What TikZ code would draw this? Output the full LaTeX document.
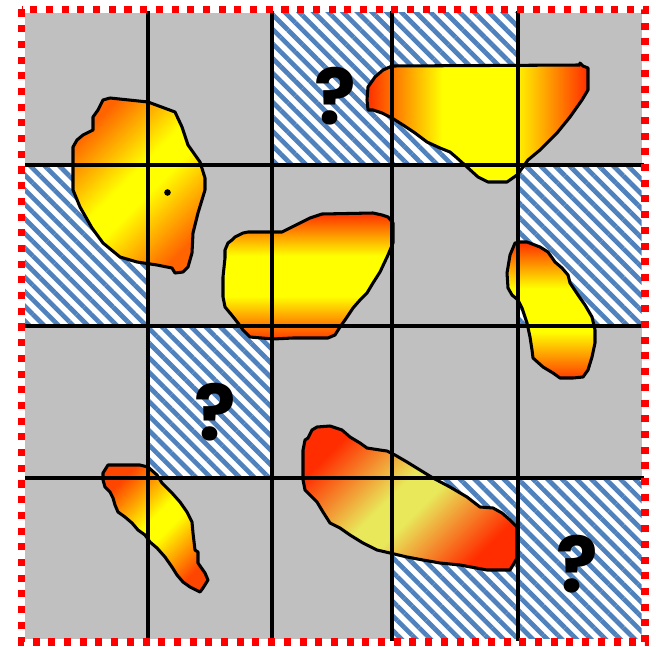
\documentclass[tikz,border=0pt]{standalone}
\usepackage{fontspec}
\newfontfamily\qfont{Poppins}
\usetikzlibrary{patterns.meta}

\definecolor{cellgray}{RGB}{192,192,192}
\definecolor{hatchblue}{RGB}{79,129,189}
\definecolor{blobred}{RGB}{255,45,0}
\definecolor{bloborange}{RGB}{255,100,0}
\definecolor{paleyellow}{RGB}{232,232,90}
\colorlet{blobedge}{blobred}
\colorlet{blobend}{blobred}
\colorlet{blobmid}{yellow}

% wide yellow middle band
\pgfdeclareverticalshading[blobedge,blobmid,blobend]{blobfill}{100bp}{color(0bp)=(blobend); color(25bp)=(blobend);
    color(42bp)=(blobmid); color(58bp)=(blobmid); color(75bp)=(blobedge); color(100bp)=(blobedge)}
% same, for the slanted ones
\pgfdeclareverticalshading[blobedge,blobmid,blobend]{blobdiag}{100bp}{color(0bp)=(blobend); color(25bp)=(blobend);
    color(46bp)=(blobmid); color(54bp)=(blobmid); color(75bp)=(blobedge); color(100bp)=(blobedge)}

\begin{document}
\begin{tikzpicture}[x=0.03cm, y=-0.03cm,
            hatched/.style={fill=white, postaction={pattern={Lines[angle=-45,distance=8.8pt,line width=4pt]}, pattern color=hatchblue}},
            blob/.style={draw=black, line width=2.6pt, line join=round, shading=blobfill},
            slanted/.style={shading=blobdiag, shading angle=45},
            edges/.code 2 args={\colorlet{blobedge}{#1}\colorlet{blobend}{#2}},
            midcol/.code={\colorlet{blobmid}{#1}},
            gridline/.style={line width=2.7pt},
            qmark/.style={inner sep=0pt, font=\qfont\bfseries\fontsize{66}{66}\selectfont}]
            \useasboundingbox (0,0) rectangle (656,646);
            % ==== CELLS ====
            \fill[cellgray] (25,13) rectangle (641.5,638.5);
            \foreach \xa/\ya/\xb/\yb in {272/13/518/165, 25/165/148/326, 518/165/641.5/326,
                148/326/272/478, 392/478/641.5/638.5}
                \path[hatched] (\xa,\ya) rectangle (\xb,\yb);
            \node[qmark] (q1) at (335,96) {?};
            \node[qmark] (q2) at (215,412) {?};
            \node[qmark] (q3) at (577,564) {?};

            % ==== BLOBS ====
            \draw[blob, slanted, edges={bloborange}{bloborange}]
                (103,100) -- (110,98) -- (148,102) -- (175,112) -- (182,127) -- (188,145) -- (200,162)
                -- (205,178) -- (205,190) -- (198,213) -- (193,233) -- (192,253) -- (188,267) -- (183,272)
                -- (175,273) -- (172,268) -- (157,265) -- (137,262) -- (120,257) -- (103,243) -- (92,228)
                -- (80,207) -- (73,190) -- (73,147) -- (77,140) -- (83,135) -- (93,130) -- (93,117)
                -- (98,110) -- cycle;
            \fill (167.5,192.5) circle[radius=3.3];
            \draw[blob, edges={blobred}{blobred}, shading angle=90]
                (392,66) -- (580,65) -- (580,63) -- (583,66) -- (588,68) -- (588,90) -- (582,100)
                -- (570,117) -- (557,133) -- (540,150) -- (528,160) -- (523,167) -- (517,175) -- (507,182)
                -- (488,182) -- (478,177) -- (467,167) -- (457,158) -- (450,152) -- (440,148) -- (427,142)
                -- (415,133) -- (403,125) -- (392,118) -- (382,113) -- (373,110) -- (368,110) -- (367,100)
                -- (368,87) -- (375,77) -- (383,70) -- cycle;
            \draw[blob, edges={blobred}{blobred!80!orange}]
                (232,240) -- (235,237) -- (243,233) -- (248,232) -- (282,232) -- (290,228) -- (300,223)
                -- (310,218) -- (322,214) -- (373,213) -- (382,215) -- (388,217) -- (393,223) -- (393,243)
                -- (388,255) -- (380,272) -- (373,283) -- (367,293) -- (360,300) -- (353,308) -- (345,320)
                -- (340,327) -- (335,335) -- (328,338) -- (293,338) -- (273,339) -- (250,337) -- (243,330)
                -- (238,323) -- (230,313) -- (225,307) -- (223,297) -- (223,277) -- (225,258) -- (225,250)
                -- (228,243) -- cycle;
            \draw[blob, edges={blobred}{blobred!80!orange}]
                (515,243) -- (520,242) -- (527,242) -- (540,247) -- (548,252) -- (555,262) -- (562,268)
                -- (568,275) -- (570,283) -- (578,295) -- (585,305) -- (592,317) -- (595,330) -- (595,343)
                -- (592,357) -- (588,370) -- (583,377) -- (573,378) -- (560,378) -- (553,373) -- (543,367)
                -- (533,358) -- (532,350) -- (530,337) -- (527,323) -- (522,308) -- (518,300) -- (512,295)
                -- (508,288) -- (507,273) -- (510,255) -- cycle;
            \draw[blob, slanted, edges={blobred!70!orange}{blobred!70!orange}]
                (108,465) -- (140,465) -- (148,467) -- (157,475) -- (162,483) -- (172,493) -- (180,502)
                -- (187,512) -- (192,522) -- (193,533) -- (195,550) -- (198,552) -- (198,563) -- (205,573)
                -- (208,580) -- (203,588) -- (200,592) -- (190,587) -- (183,582) -- (177,575) -- (172,567)
                -- (165,557) -- (157,548) -- (150,542) -- (145,535) -- (138,530) -- (132,523) -- (125,517)
                -- (118,512) -- (115,505) -- (113,498) -- (110,492) -- (105,487) -- (103,480) -- (103,473)
                -- cycle;
            \draw[blob, slanted, edges={blobred}{blobred}, midcol=paleyellow]
                (312,430) -- (317,427) -- (330,426) -- (342,430) -- (350,437) -- (360,443) -- (367,448)
                -- (380,450) -- (387,451) -- (395,455) -- (407,462) -- (420,470) -- (433,478) -- (450,487)
                -- (467,497) -- (480,507) -- (493,508) -- (502,513) -- (510,520) -- (517,527) -- (517,558)
                -- (513,565) -- (510,570) -- (487,570) -- (460,565) -- (440,563) -- (423,560) -- (407,557)
                -- (390,553) -- (377,550) -- (363,543) -- (350,535) -- (340,528) -- (330,523) -- (323,512)
                -- (317,502) -- (310,495) -- (305,490) -- (303,480) -- (303,467) -- (303,450) -- (305,440)
                -- (308,438) -- cycle;

            % ==== GRID ====
            \foreach \gx in {148,272,392,518}
                \draw[gridline] (\gx,11) -- (\gx,641);
            \foreach \gy in {165,326,478}
                \draw[gridline] (25,\gy) -- (644,\gy);

            % ==== FRAME ====
            \draw[red, line width=6pt, dash pattern=on 6pt off 7.4pt] (21.5,9.5) rectangle (645,642);
         \end{tikzpicture}
\end{document}
